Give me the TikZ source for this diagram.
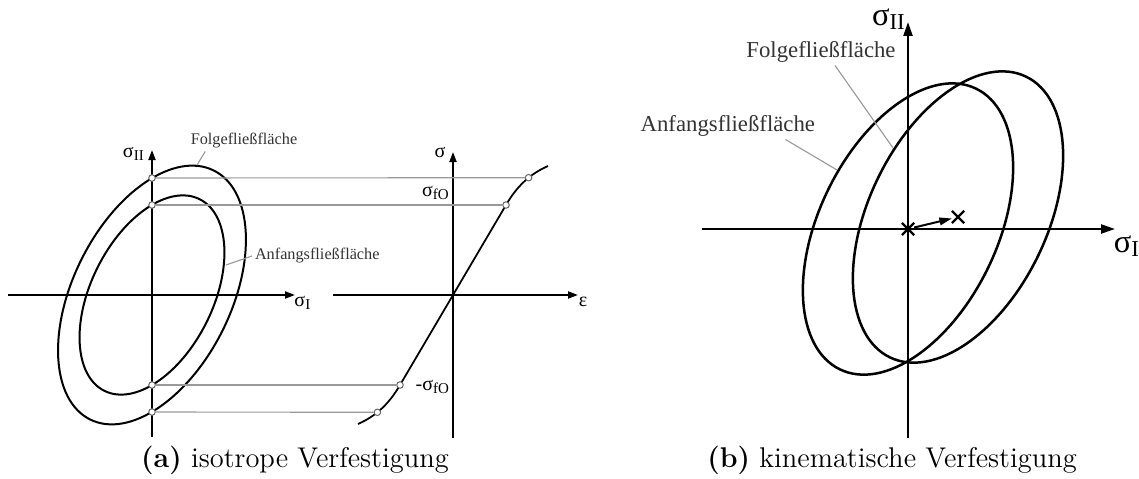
\documentclass[tikz,border=0pt]{standalone}
\usepackage{fontspec}
\newfontfamily\tnr{Liberation Serif}
\usetikzlibrary{arrows.meta,shapes.misc}
\tikzset{
  axis/.style     ={line width=0.8pt, -{Triangle[length=4pt,width=2.8pt]}},
  bigaxis/.style  ={line width=0.9pt, -{Triangle[length=5.6pt,width=3.6pt]}},
  yieldline/.style={line width=0.8pt},
  guide/.style    ={draw=black!40, line width=0.45pt},
  ringdot/.style  ={circle, draw=black!60, fill=white, line width=0.4pt,
                    inner sep=0pt, minimum size=2.6pt},
  xmark/.style    ={cross out, draw, line width=0.9pt, inner sep=0pt, minimum size=4pt},
  smalllbl/.style ={font=\tnr\fontsize{6.5}{7}\selectfont, text=black!80, inner sep=1pt},
  axlbl/.style    ={font=\tnr\fontsize{8}{9}\selectfont, inner sep=0pt},
  biglbl/.style   ={font=\tnr\fontsize{9.1}{10}\selectfont, text=black!80, inner sep=1pt},
  bigaxlbl/.style ={font=\tnr\fontsize{13}{14}\selectfont, inner sep=0pt},
  capt/.style     ={font=\fontsize{11.4}{13}\selectfont, inner sep=0pt},
}

\begin{document}
\begin{tikzpicture}[x=0.4pt, y=-0.4pt]
  \useasboundingbox (0,0) rectangle (1139,479);
  % (a) isotrope Verfestigung: sigma_I / sigma_II plane
  \coordinate (oA) at (152,295);
  \draw[axis] (8,295) -- (295,295);
  \draw[axis] (152,437) -- (152,150);
  \draw[yieldline, rotate around={63.6:(oA)}] (oA) ellipse [x radius=139, y radius=79];
  \draw[yieldline, rotate around={63.6:(oA)}] (oA) ellipse [x radius=107, y radius=61];
  % stress-strain curve
  \coordinate (oS) at (453,295);
  \draw[axis] (333,295) -- (578,295);
  \draw[axis] (453,438) -- (453,152);
  \draw[yieldline, line width=0.7pt]
    (358,424) .. controls (376,416) and (389,404) .. (400,385)
    -- (506,205) .. controls (517,186) and (530,174) .. (548,166);
  % projection lines and points
  \node[ringdot] (p1) at (152,178) {};
  \node[ringdot] (p2) at (152,205) {};
  \node[ringdot] (p3) at (152,385) {};
  \node[ringdot] (p4) at (152,412) {};
  \node[ringdot] (q1) at (528.6,177.7) {};
  \node[ringdot] (q2) at (506,205) {};
  \node[ringdot] (q3) at (400,385) {};
  \node[ringdot] (q4) at (377.4,412.3) {};
  \foreach \i in {1,...,4}
    \draw[guide] (p\i) -- (q\i);
  % labels (a)
  \node[axlbl] (sIa)  at (303,303) {σ\textsubscript{I}};
  \node[axlbl] (sIIa) at (134,154) {σ\textsubscript{II}};
  \node[axlbl] (sig)  at (440,152) {σ};
  \node[axlbl] (eps)  at (583,302) {ε};
  \node[axlbl] (sf)   at (436,193) {σ\textsubscript{fO}};
  \node[axlbl] (msf)  at (433,387) {-σ\textsubscript{fO}};
  \node[smalllbl, anchor=west] (anfA) at (252,256) {Anfangsfließfläche};
  \node[smalllbl] (folA) at (244,141) {Folgefließfläche};
  \coordinate (anfAp) at (226,265);
  \coordinate (folAp) at (197,165);
  \draw[guide] (anfAp) -- (anfA.west);
  \draw[guide] (folAp) -- ([xshift=7pt]folA.south west);

  % (b) kinematische Verfestigung
  \coordinate (oB) at (908,229);
  \coordinate (mB) at (958,217);
  \draw[bigaxis] (702,229) -- (1115,229);
  \draw[bigaxis] (908,438) -- (908,22);
  \draw[yieldline, line width=1pt, rotate around={64.1:(oB)}] (oB) ellipse [x radius=156, y radius=89];
  \draw[yieldline, line width=1pt, rotate around={64.1:(mB)}] (mB) ellipse [x radius=156, y radius=89];
  \node[xmark] (xO) at (oB) {};
  \node[xmark] (xM) at (mB) {};
  \draw[line width=0.8pt, -{Triangle[length=5pt,width=3pt]}] (xO) -- (xM);
  \node[bigaxlbl] (sIIb) at (889,19) {σ\textsubscript{II}};
  \node[bigaxlbl] (sIb)  at (1127,246) {σ\textsubscript{I}};
  \node[biglbl] (folB) at (821,52) {Folgefließfläche};
  \node[biglbl, anchor=east] (anfB) at (818,126) {Anfangsfließfläche};
  \coordinate (folBp) at (893,148);
  \coordinate (anfBp) at (837,170);
  \draw[guide] (folBp) -- ([xshift=5.6pt]folB.south);
  \draw[guide] (anfBp) -- ([xshift=-13pt]anfB.south east);

  % captions
  \node[capt] (capA) at (295,460) {\textbf{(a)} isotrope Verfestigung};
  \node[capt] (capB) at (892,460) {\textbf{(b)} kinematische Verfestigung};
\end{tikzpicture}
\end{document}
